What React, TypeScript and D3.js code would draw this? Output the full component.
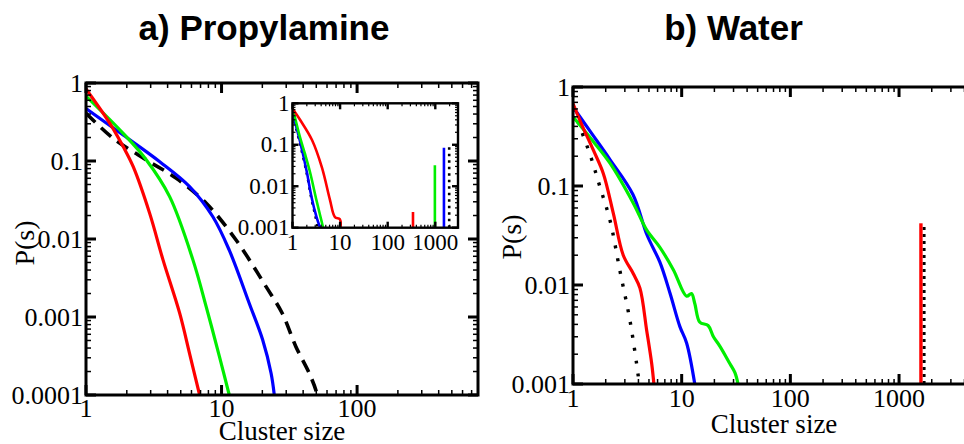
import React from 'react';
import * as d3 from 'd3';

// ---------- Data ----------
// a) Propylamine, main panel
const propRedS = [1, 1.5, 1.88, 2.23, 2.95, 3.7, 4.91, 5.81, 6.89];
const propRedP = [0.84, 0.304, 0.153, 0.0845, 0.0213, 0.0054, 0.00112, 0.00034, 0.0001];
const propGreenS = [1, 1.88, 2.79, 4.14, 6.15, 7.71, 9.65, 11.4];
const propGreenP = [0.68, 0.226, 0.103, 0.0349, 0.0054, 0.00135, 0.00031, 0.0001];
const propBlueS = [1, 1.88, 3.5, 5.81, 8.63, 11.4, 16.0, 20.1, 23.2, 24.5];
const propBlueP = [0.47, 0.215, 0.098, 0.047, 0.0193, 0.0072, 0.0015, 0.00051, 0.00019, 0.0001];
const propBlackS = [1, 1.59, 2.79, 4.64, 7.71, 12.8, 21.3, 28.1, 35.3, 44.4, 49.6, 50.5];
const propBlackP = [0.41, 0.195, 0.103, 0.06, 0.0287, 0.0097, 0.00245, 0.00111, 0.00042, 0.00019, 0.000116, 0.0001];

// a) Propylamine, inset
const insRedS = [1, 1.44, 2.57, 4.16, 6.12, 7.8, 9.9, 10.2];
const insRedP = [0.75, 0.4, 0.13, 0.028, 0.0047, 0.0018, 0.0016, 0.001];
const insGreenS = [1, 1.44, 1.83, 2.33, 3.2, 3.8, 4.4];
const insGreenP = [0.8, 0.15, 0.06, 0.022, 0.0045, 0.002, 0.001];
const insBlueS = [1, 1.44, 2.0, 2.5, 3.2, 3.8];
const insBlueP = [0.6, 0.12, 0.022, 0.0056, 0.0018, 0.001];
const insBlackS = [1, 1.4, 2.0, 2.5, 3.0, 3.4];
const insBlackP = [0.55, 0.12, 0.02, 0.005, 0.002, 0.001];
const insSpikeS = [340, 980, 1520, 1960];
const insSpikeP = [0.0024, 0.032, 0.085, 0.095];
const insSpikeColor = ['#ff0000', '#00ee00', '#0000ff', '#000000'];

// b) Water
const watRedS = [1, 1.2, 1.54, 1.9, 2.35, 2.9, 3.59, 4.13, 4.76, 5.3, 5.55];
const watRedP = [0.68, 0.42, 0.23, 0.134, 0.053, 0.02, 0.013, 0.0093, 0.0035, 0.0016, 0.001];
const watBlackS = [1, 1.43, 1.77, 2.19, 2.7, 3.34, 3.85, 4.07];
const watBlackP = [0.6, 0.21, 0.098, 0.045, 0.014, 0.0044, 0.0016, 0.001];
const watBlueS = [1, 1.43, 2.19, 3.56, 4.8, 6.3, 7.8, 9.63, 11.1, 13.2];
const watBlueP = [0.63, 0.36, 0.185, 0.082, 0.032, 0.017, 0.0083, 0.0038, 0.0026, 0.001];
const watGreenS = [1, 1.43, 2.19, 3.59, 4.76, 6.3, 8.4, 11.1, 12.3, 13.2, 14.7, 17.5, 19.6, 22.5, 27.8, 30.9, 33];
const watGreenP = [0.5, 0.31, 0.17, 0.067, 0.036, 0.024, 0.0142, 0.0077, 0.0082, 0.0065, 0.0042, 0.0039, 0.003, 0.0024, 0.0016, 0.0013, 0.001];
const watSpikeS = [1590, 1700];
const watSpikeP = [0.042, 0.039];

// Tick values & labels
const propXTicks = [1, 10, 100];
const propXLabels = ['1', '10', '100'];
const propYTicks = [0.0001, 0.001, 0.01, 0.1, 1];
const propYLabels = ['0.0001', '0.001', '0.01', '0.1', '1'];
const insXTicks = [1, 10, 100, 1000];
const insXLabels = ['1', '10', '100', '1000'];
const insYTicks = [0.001, 0.01, 0.1, 1];
const insYLabels = ['0.001', '0.01', '0.1', '1'];
const watXTicks = [1, 10, 100, 1000];
const watXLabels = ['1', '10', '100', '1000'];
const watYTicks = [0.001, 0.01, 0.1, 1];
const watYLabels = ['0.001', '0.01', '0.1', '1'];

const titles = ['a) Propylamine', 'b) Water'];
const xTitle = 'Cluster size';
const yTitle = 'P(s)';

const RED = '#ff0000';
const GREEN = '#00ee00';
const BLUE = '#0000ff';
const SERIF = "'Liberation Serif', 'Times New Roman', serif";
const SANS = "'Liberation Sans', Arial, sans-serif";

type Scale = d3.ScaleLogarithmic<number, number>;

function minors(domain: [number, number]) {
  const out: number[] = [];
  for (let e = Math.floor(Math.log10(domain[0])); e <= Math.ceil(Math.log10(domain[1])); e++) {
    for (let k = 2; k <= 9; k++) {
      const v = k * Math.pow(10, e);
      if (v > domain[0] && v < domain[1]) out.push(v);
    }
  }
  return out;
}

function zip(s: number[], p: number[]): [number, number][] {
  return s.map((v, i) => [v, p[i]]);
}

function Frame(props: {
  x: Scale; y: Scale; xTicks: number[]; xLabels: string[]; yTicks: number[]; yLabels: string[];
  major: number; minor: number; fs: number; fw: number; xLabDy: number; yLabDx: number;
}) {
  const { x, y, xTicks, xLabels, yTicks, yLabels, major, minor, fs, fw, xLabDy, yLabDx } = props;
  const [x0, x1] = x.range();
  const [y1, y0] = y.range();
  const xm = minors(x.domain() as [number, number]);
  const ym = minors(y.domain() as [number, number]);
  const mw = Math.max(1.2, fw * 0.5);
  return (
    <g>
      {xm.map((v, i) => (
        <g key={'xm' + i} stroke="#000" strokeWidth={mw}>
          <line x1={x(v)} x2={x(v)} y1={y1} y2={y1 - minor} />
          <line x1={x(v)} x2={x(v)} y1={y0} y2={y0 + minor} />
        </g>
      ))}
      {xTicks.map((v, i) => (
        <g key={'xM' + i} stroke="#000" strokeWidth={fw}>
          <line x1={x(v)} x2={x(v)} y1={y1} y2={y1 - major} />
          <line x1={x(v)} x2={x(v)} y1={y0} y2={y0 + major} />
        </g>
      ))}
      {ym.map((v, i) => (
        <g key={'ym' + i} stroke="#000" strokeWidth={mw}>
          <line x1={x0} x2={x0 + minor} y1={y(v)} y2={y(v)} />
          <line x1={x1} x2={x1 - minor} y1={y(v)} y2={y(v)} />
        </g>
      ))}
      {yTicks.map((v, i) => (
        <g key={'yM' + i} stroke="#000" strokeWidth={fw}>
          <line x1={x0} x2={x0 + major} y1={y(v)} y2={y(v)} />
          <line x1={x1} x2={x1 - major} y1={y(v)} y2={y(v)} />
        </g>
      ))}
      <rect x={x0} y={y0} width={x1 - x0} height={y1 - y0} fill="none" stroke="#000" strokeWidth={fw} />
      {xTicks.map((v, i) => (
        <text key={'xl' + i} x={x(v)} y={y1 + xLabDy} textAnchor="middle" fontFamily={SERIF} fontSize={fs}>
          {xLabels[i]}
        </text>
      ))}
      {yTicks.map((v, i) => (
        <text key={'yl' + i} x={x0 - yLabDx} y={y(v) + fs * 0.33} textAnchor="end" fontFamily={SERIF} fontSize={fs}>
          {yLabels[i]}
        </text>
      ))}
    </g>
  );
}

export default function App() {
  const px = d3.scaleLog().domain([1, 780]).range([86, 478]);
  const py = d3.scaleLog().domain([0.0001, 1]).range([395, 83]);
  const ix = d3.scaleLog().domain([1, 3000]).range([292.5, 458]);
  const iy = d3.scaleLog().domain([0.001, 1]).range([227.7, 103.3]);
  const wx = d3.scaleLog().domain([1, 5000]).range([573, 975]);
  const wy = d3.scaleLog().domain([0.001, 1]).range([384, 87]);

  const mk = (x: Scale, y: Scale) =>
    d3.line<[number, number]>().x(d => x(d[0])).y(d => y(d[1])).curve(d3.curveCatmullRom.alpha(0.5));
  const pl = mk(px, py);
  const il = mk(ix, iy);
  const wl = mk(wx, wy);
  const spike = (x: Scale, y: Scale, s: number, p: number) =>
    d3.line<[number, number]>().x(d => x(d[0])).y(d => y(d[1]))([[s, y.domain()[0]], [s, p]]) as string;

  return (
    <svg width={964} height={444} style={{ position: 'absolute', left: 0, top: 0, background: '#fff' }}>
      <defs>
        <clipPath id="clipP"><rect x={86} y={83} width={392} height={312} /></clipPath>
        <clipPath id="clipI"><rect x={292.5} y={103.3} width={165.5} height={124.4} /></clipPath>
        <clipPath id="clipW"><rect x={573} y={87} width={402} height={297} /></clipPath>
      </defs>
      <rect x={0} y={0} width={964} height={444} fill="#fff" />

      <text x={264} y={40} textAnchor="middle" fontFamily={SANS} fontWeight="bold" fontSize={35}>{titles[0]}</text>
      <text x={733.5} y={40} textAnchor="middle" fontFamily={SANS} fontWeight="bold" fontSize={35}>{titles[1]}</text>

      <g clipPath="url(#clipP)" fill="none" strokeWidth={3.2} strokeLinejoin="round">
        <path d={pl(zip(propBlackS, propBlackP)) as string} stroke="#000" strokeWidth={3.6} strokeDasharray="13,8" />
        <path d={pl(zip(propBlueS, propBlueP)) as string} stroke={BLUE} />
        <path d={pl(zip(propGreenS, propGreenP)) as string} stroke={GREEN} />
        <path d={pl(zip(propRedS, propRedP)) as string} stroke={RED} />
      </g>
      <Frame x={px} y={py} xTicks={propXTicks} xLabels={propXLabels} yTicks={propYTicks} yLabels={propYLabels}
        major={10} minor={5} fs={26} fw={3} xLabDy={22} yLabDx={3} />

      <rect x={292.5} y={103.3} width={165.5} height={124.4} fill="#fff" />
      <g clipPath="url(#clipI)" fill="none" strokeWidth={2.6} strokeLinejoin="round">
        <path d={il(zip(insBlackS, insBlackP)) as string} stroke="#000" strokeDasharray="2.5,5" />
        <path d={il(zip(insBlueS, insBlueP)) as string} stroke={BLUE} />
        <path d={il(zip(insGreenS, insGreenP)) as string} stroke={GREEN} />
        <path d={il(zip(insRedS, insRedP)) as string} stroke={RED} />
        {insSpikeS.map((s, i) => (
          <path key={'is' + i} d={spike(ix, iy, s, insSpikeP[i])} stroke={insSpikeColor[i]}
            strokeDasharray={i === 3 ? '2.5,4' : undefined} />
        ))}
      </g>
      <Frame x={ix} y={iy} xTicks={insXTicks} xLabels={insXLabels} yTicks={insYTicks} yLabels={insYLabels}
        major={6} minor={3} fs={23} fw={2.4} xLabDy={22} yLabDx={3} />

      <g clipPath="url(#clipW)" fill="none" strokeWidth={3.2} strokeLinejoin="round">
        <path d={wl(zip(watBlackS, watBlackP)) as string} stroke="#000" strokeWidth={3.4} strokeDasharray="3,10" />
        <path d={wl(zip(watBlueS, watBlueP)) as string} stroke={BLUE} />
        <path d={wl(zip(watGreenS, watGreenP)) as string} stroke={GREEN} />
        <path d={wl(zip(watRedS, watRedP)) as string} stroke={RED} />
        <path d={spike(wx, wy, watSpikeS[1], watSpikeP[1])} stroke="#000" strokeWidth={3} strokeDasharray="3,4" />
        <path d={spike(wx, wy, watSpikeS[0], watSpikeP[0])} stroke={RED} strokeWidth={3.4} />
      </g>
      <Frame x={wx} y={wy} xTicks={watXTicks} xLabels={watXLabels} yTicks={watYTicks} yLabels={watYLabels}
        major={10} minor={5} fs={26} fw={3} xLabDy={23} yLabDx={3} />

      <text x={282} y={440} textAnchor="middle" fontFamily={SERIF} fontSize={27}>{xTitle}</text>
      <text x={774} y={433} textAnchor="middle" fontFamily={SERIF} fontSize={27}>{xTitle}</text>
      <text transform="translate(34,243) rotate(-90)" textAnchor="middle" fontFamily={SERIF} fontSize={28}>{yTitle}</text>
      <text transform="translate(521,237) rotate(-90)" textAnchor="middle" fontFamily={SERIF} fontSize={28}>{yTitle}</text>
    </svg>
  );
}
